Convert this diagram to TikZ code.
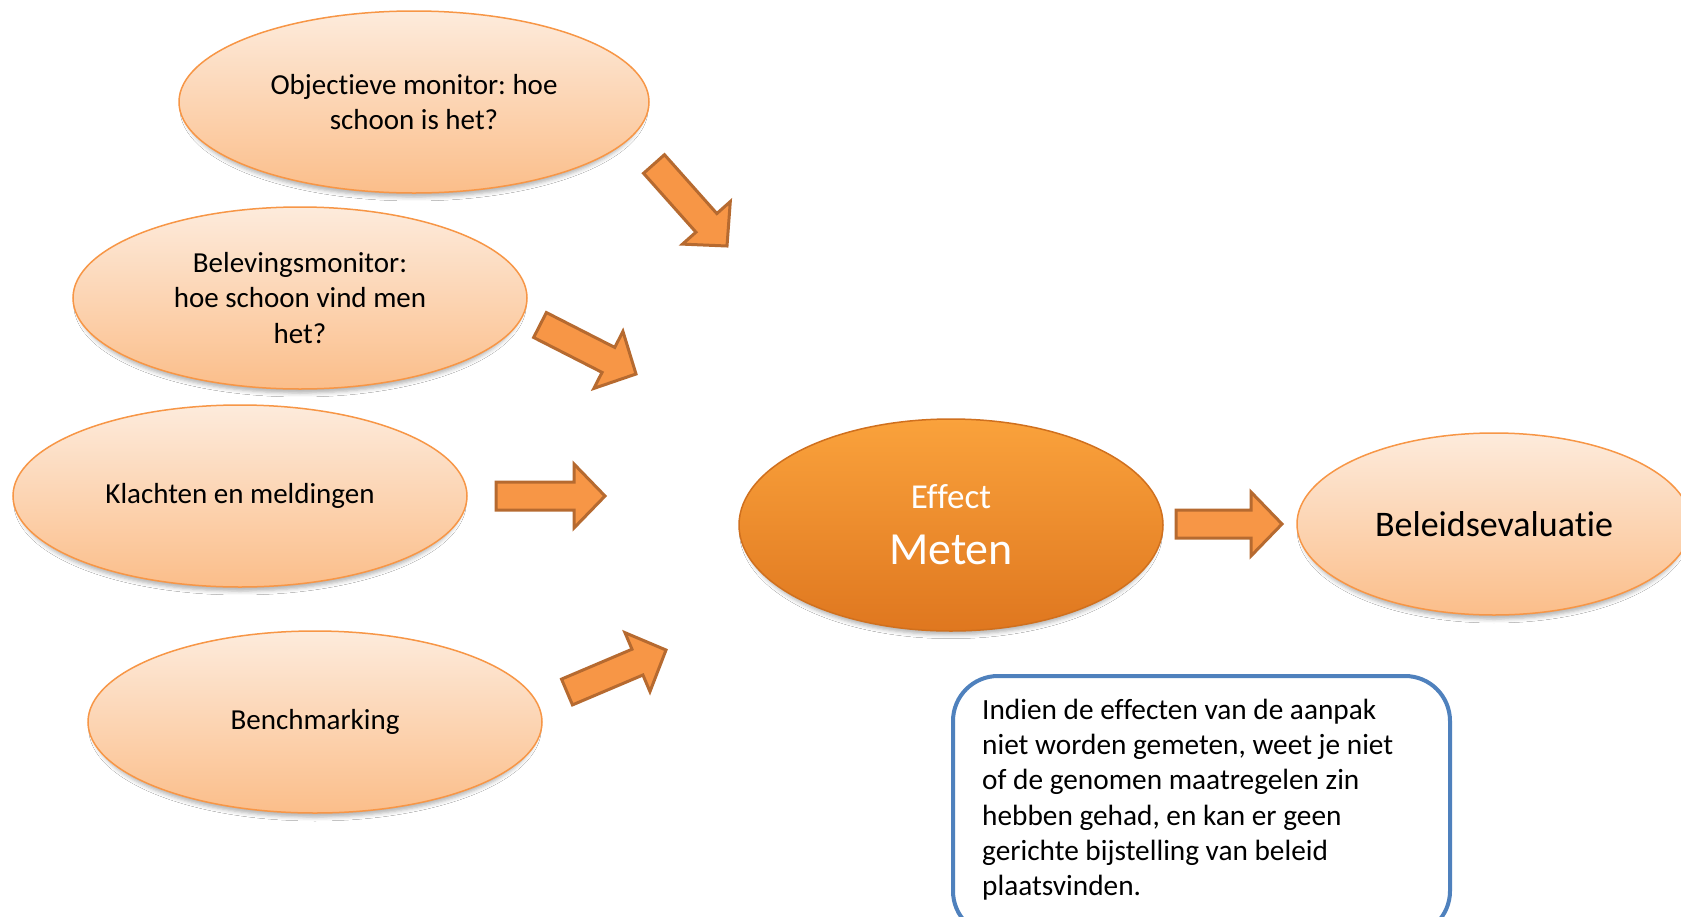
\documentclass[tikz,border=0pt]{standalone}
\usepackage{fontspec}
\setmainfont{Carlito}[Ligatures=NoCommon]
\frenchspacing
\usetikzlibrary{calc,shadows.blur,shapes.geometric}
\definecolor{peachtop}{HTML}{FDEBDC}
\definecolor{peachbot}{HTML}{FBBE8A}
\definecolor{peachline}{HTML}{F79646}
\definecolor{arrfill}{HTML}{F79646}
\definecolor{arrline}{HTML}{B66A30}
\definecolor{mettop}{HTML}{FAA23C}
\definecolor{metbot}{HTML}{DF771F}
\definecolor{metline}{HTML}{D0701E}
\definecolor{noteblue}{HTML}{4F81BD}
\tikzset{
  softshadow/.style={blur shadow={shadow xshift=0pt, shadow yshift=-6pt, shadow scale=0.98,
    shadow blur radius=4pt, shadow opacity=30}},
  srcell/.style={ellipse, inner sep=0pt, minimum width=454, minimum height=182,
    top color=peachtop, bottom color=peachbot, draw=peachline, line width=1.5,
    softshadow, font=\fontsize{29}{35.4}\selectfont, align=center},
  blockarr/.style={fill=arrfill, draw=arrline, line width=3, line join=miter},
}
\newcommand\blockarrow[3]{%
  \coordinate (#3b) at ($(#2)!31pt!(#1)$);
  \draw[blockarr] ($(#1)!14pt!90:(#2)$) -- ($(#3b)!14pt!90:(#2)$) -- ($(#3b)!32pt!90:(#2)$)
    -- (#2) -- ($(#3b)!32pt!-90:(#2)$) -- ($(#3b)!14pt!-90:(#2)$) -- ($(#1)!14pt!-90:(#2)$) -- cycle;
}
\begin{document}
\begin{tikzpicture}[x=1pt,y=-1pt]
\useasboundingbox (0,0) rectangle (1681,916);
\fill[white] (0,0) rectangle (1681,916);

\node[srcell, minimum width=470] (o1) at (414,102) {Objectieve monitor: hoe\\schoon is het?};
\node[srcell] (o2) at (300,298) {Belevingsmonitor:\\hoe schoon vind men\\het?};
\node[srcell] (o3) at (240,496) {Klachten en meldingen};
\node[srcell] (o4) at (315,722) {Benchmarking};

\node[ellipse, inner sep=0pt, minimum width=424, minimum height=212,
  top color=mettop, bottom color=metbot, draw=metline, line width=1.5, softshadow,
  text=white, align=center, font=\fontsize{46}{56}\selectfont] (em) at (951,525)
  {{\fontsize{35}{42}\selectfont Effect}\\Meten};

\node[srcell, minimum width=394, font=\fontsize{36}{44}\selectfont] (be) at (1494,524) {Beleidsevaluatie};

\coordinate (a1s) at (654,164); \coordinate (a1e) at (727,246);
\coordinate (a2s) at (540,325); \coordinate (a2e) at (636,374);
\coordinate (a3s) at (496,496); \coordinate (a3e) at (605,496);
\coordinate (a4s) at (567,692); \coordinate (a4e) at (666,650);
\coordinate (a5s) at (1176,524); \coordinate (a5e) at (1282,524);
\blockarrow{a1s}{a1e}{a1}
\blockarrow{a2s}{a2e}{a2}
\blockarrow{a3s}{a3e}{a3}
\blockarrow{a4s}{a4e}{a4}
\blockarrow{a5s}{a5e}{a5}

\node[draw=noteblue, line width=4, rounded corners=45, fill=white, minimum width=497,
  minimum height=260, anchor=north west, inner sep=0pt] (note) at (951,674) {};
\node[anchor=north west, inner sep=0pt, align=left, font=\fontsize{29.3}{35.2}\selectfont] (notetext)
  at ($(note.north west)+(31,25)$)
  {Indien de effecten van de aanpak\\niet worden gemeten, weet je niet\\of de genomen maatregelen zin\\hebben gehad, en kan er geen\\gerichte bijstelling van beleid\\plaatsvinden.};
\end{tikzpicture}
\end{document}
